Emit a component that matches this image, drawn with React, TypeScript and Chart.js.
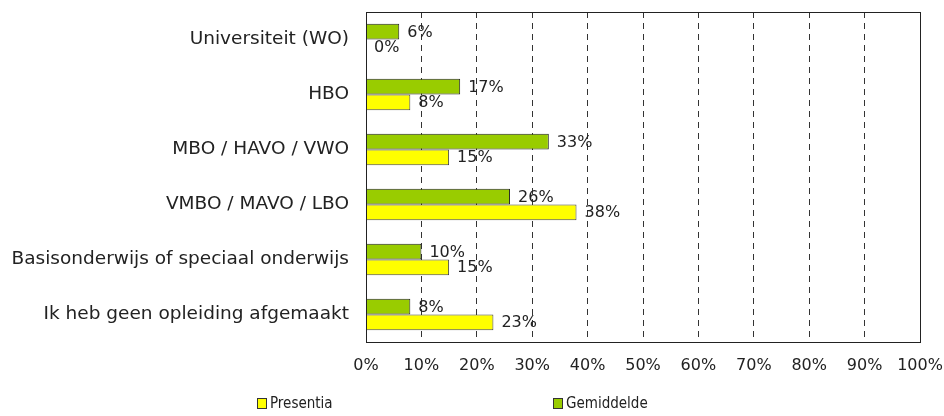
import React, { useEffect, useRef } from "react";
import { Chart, registerables } from "chart.js";

Chart.register(...registerables);

const categories = [
  "Universiteit (WO)",
  "HBO",
  "MBO / HAVO / VWO",
  "VMBO / MAVO / LBO",
  "Basisonderwijs of speciaal onderwijs",
  "Ik heb geen opleiding afgemaakt",
];
const gemiddelde = [6, 17, 33, 26, 10, 8];
const presentia = [0, 8, 15, 38, 15, 23];
const xTicks = [0, 10, 20, 30, 40, 50, 60, 70, 80, 90, 100];

const FONT = "'DejaVu Sans', Verdana, sans-serif";
const LEGEND_FONT = "'Liberation Sans Narrow', 'DejaVu Sans Condensed', 'Arial Narrow', sans-serif";

const frameAndLabels = {
  id: "frameAndLabels",
  afterDatasetsDraw(chart: any) {
    const ctx = chart.ctx;
    const a = chart.chartArea;
    ctx.save();
    ctx.strokeStyle = "#222";
    ctx.lineWidth = 1;
    ctx.setLineDash([]);
    ctx.strokeRect(Math.round(a.left) + 0.5, Math.round(a.top) + 0.5, Math.round(a.right - a.left), Math.round(a.bottom - a.top));
    ctx.fillStyle = "#222";
    ctx.font = "16px " + FONT;
    ctx.textBaseline = "middle";
    ctx.textAlign = "left";
    chart.data.datasets.forEach((ds: any, i: number) => {
      const meta = chart.getDatasetMeta(i);
      meta.data.forEach((el: any, j: number) => {
        ctx.fillText(ds.data[j] + "%", el.x + 8, el.y + 1);
      });
    });
    ctx.restore();
  },
  afterDraw(chart: any) {
    const ctx = chart.ctx;
    ctx.save();
    const items = [
      { label: "Presentia", color: "#FFFF00", x: 257 },
      { label: "Gemiddelde", color: "#99CC00", x: 553 },
    ];
    const y = 403;
    items.forEach((it) => {
      ctx.fillStyle = it.color;
      ctx.fillRect(it.x, y - 5, 9, 10);
      ctx.strokeStyle = "#333";
      ctx.lineWidth = 1;
      ctx.strokeRect(it.x + 0.5, y - 5 + 0.5, 9, 10);
      ctx.fillStyle = "#222";
      ctx.font = "15px " + LEGEND_FONT;
      ctx.textBaseline = "middle";
      ctx.textAlign = "left";
      ctx.fillText(it.label, it.x + 13, y + 1);
    });
    ctx.restore();
  },
};

export default function App() {
  const ref = useRef<HTMLCanvasElement | null>(null);
  useEffect(() => {
    if (!ref.current) return;
    const chart = new Chart(ref.current, {
      type: "bar",
      data: {
        labels: categories,
        datasets: [
          {
            label: "Gemiddelde",
            data: gemiddelde,
            backgroundColor: "#99CC00",
            borderColor: "#222222",
            borderWidth: 1,
            categoryPercentage: 0.57,
            barPercentage: 1.0,
          },
          {
            label: "Presentia",
            data: presentia,
            backgroundColor: "#FFFF00",
            borderColor: "#444444",
            borderWidth: 1,
            categoryPercentage: 0.57,
            barPercentage: 1.0,
          },
        ],
      },
      options: {
        indexAxis: "y",
        animation: false,
        responsive: false,
        maintainAspectRatio: false,
        layout: { padding: { top: 12, right: 24, bottom: 0, left: 0 } },
        plugins: {
          legend: { display: false },
          tooltip: { enabled: false },
        },
        scales: {
          x: {
            min: 0,
            max: 100,
            afterBuildTicks(scale: any) {
              scale.ticks = xTicks.map((v) => ({ value: v }));
            },
            afterFit(scale: any) {
              scale.height = 74;
              scale.paddingLeft = 0;
              scale.paddingRight = 0;
            },
            ticks: {
              color: "#222",
              font: { family: FONT, size: 16 },
              padding: 14,
              maxRotation: 0,
              callback: (v: any) => v + "%",
            },
            grid: {
              display: true,
              drawTicks: false,
              color: "#333",
              lineWidth: 1,
            },
            border: { display: false, dash: [6, 5] },
          },
          y: {
            afterFit(scale: any) {
              scale.width = 366;
              scale.paddingTop = 0;
              scale.paddingBottom = 0;
            },
            ticks: {
              color: "#222",
              font: { family: FONT, size: 18.5 },
              padding: 17,
            },
            grid: { display: false, drawTicks: false },
            border: { display: false },
          },
        },
      },
      plugins: [frameAndLabels],
    } as any);
    return () => chart.destroy();
  }, []);
  return (
    <div style={{ position: "fixed", left: 0, top: 0, width: 944, height: 416, background: "#fff" }}>
      <canvas ref={ref} width={944} height={416} />
    </div>
  );
}
